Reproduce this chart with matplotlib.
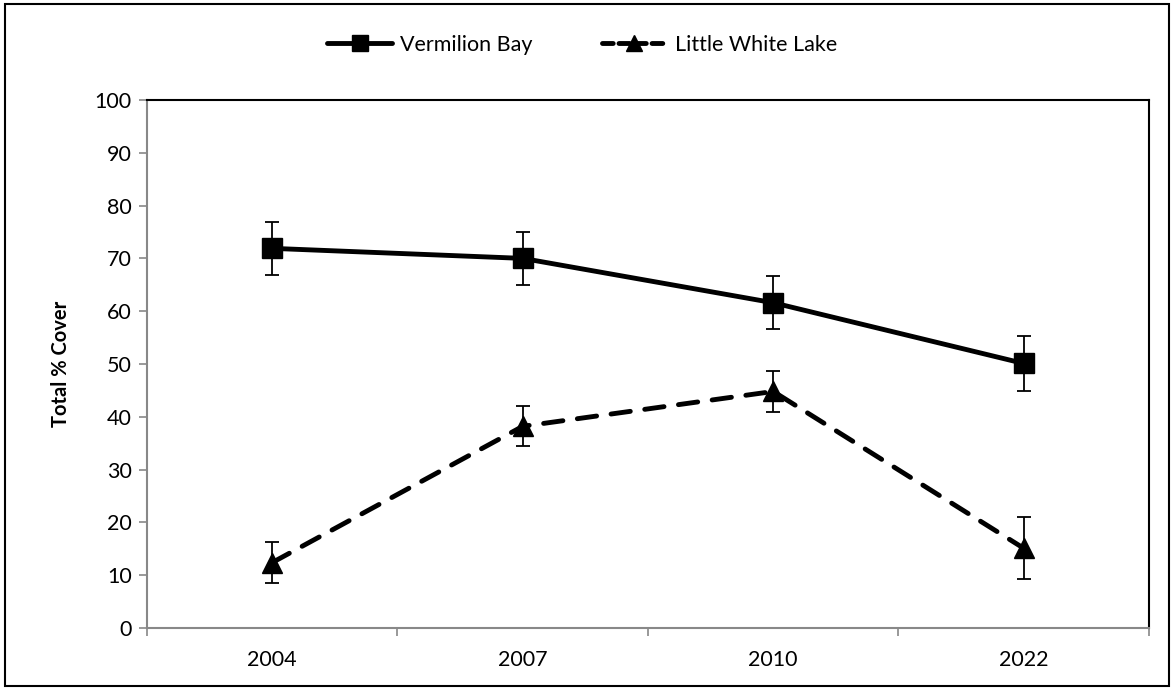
import matplotlib
matplotlib.use("Agg")
import matplotlib.pyplot as plt
from matplotlib.lines import Line2D
from matplotlib.patches import Rectangle

years = ["2004", "2007", "2010", "2022"]
vermilion_bay = [71.9, 70.0, 61.6, 50.1]
vermilion_err = [5.0, 5.0, 5.05, 5.2]
little_white = [12.4, 38.2, 44.8, 15.1]
little_white_err = [3.9, 3.8, 3.8, 5.9]

plt.rcParams["font.family"] = ["Lato", "DejaVu Sans"]

fig = plt.figure(figsize=(11.74, 6.89), dpi=100)
ax = fig.add_axes([0.1252, 0.0885, 0.8535, 0.7664])

x = list(range(len(years)))
dash = (0, (4, 3))

ax.errorbar(x, vermilion_bay, yerr=vermilion_err, color="black", lw=3.5,
            marker="s", ms=14, ecolor="black", elinewidth=1.3, capsize=5,
            capthick=1.3, zorder=3)
ax.errorbar(x, little_white, yerr=little_white_err, color="black", lw=3.5,
            ls=dash, dash_capstyle="round", marker="^", ms=14,
            ecolor="black", elinewidth=1.3, capsize=5, capthick=1.3, zorder=3)

ax.set_xlim(-0.5, len(years) - 0.5)
ax.set_ylim(0, 100)
ax.set_yticks(range(0, 101, 10))
ax.set_xticks(x)
ax.set_xticklabels(years)
ax.set_xticks([i - 0.5 for i in range(len(years) + 1)], minor=True)
ax.tick_params(axis="x", which="major", length=0, pad=16, labelsize=15.5)
ax.tick_params(axis="x", which="minor", length=6, width=1.2, color="#888888")
ax.tick_params(axis="y", length=6, width=1.2, color="#888888", labelsize=15.5, pad=5)

for side in ("left", "bottom"):
    ax.spines[side].set_color("#888888")
    ax.spines[side].set_linewidth(1.5)
for side in ("top", "right"):
    ax.spines[side].set_color("black")
    ax.spines[side].set_linewidth(1.5)

ax.set_ylabel("Total % Cover", fontsize=14.5, fontweight="bold", labelpad=17)

handles = [
    Line2D([], [], color="black", lw=3.5, marker="s", ms=11,
           solid_capstyle="round"),
    Line2D([], [], color="black", lw=3.5, ls=(0, (2.2, 1.2)), marker="^", ms=11,
           dash_capstyle="round"),
]
fig.legend(handles, ["Vermilion Bay", "Little White Lake"], loc="center",
           bbox_to_anchor=(0.496, 0.935), ncol=2, frameon=False, fontsize=15.5,
           handlelength=3.0, columnspacing=3.2, handletextpad=0.4)

fig.patches.append(Rectangle((0.004, 0.004), 0.992, 0.99, transform=fig.transFigure,
                             fill=False, edgecolor="black", lw=1.5))

fig.savefig("out.png", dpi=100)
